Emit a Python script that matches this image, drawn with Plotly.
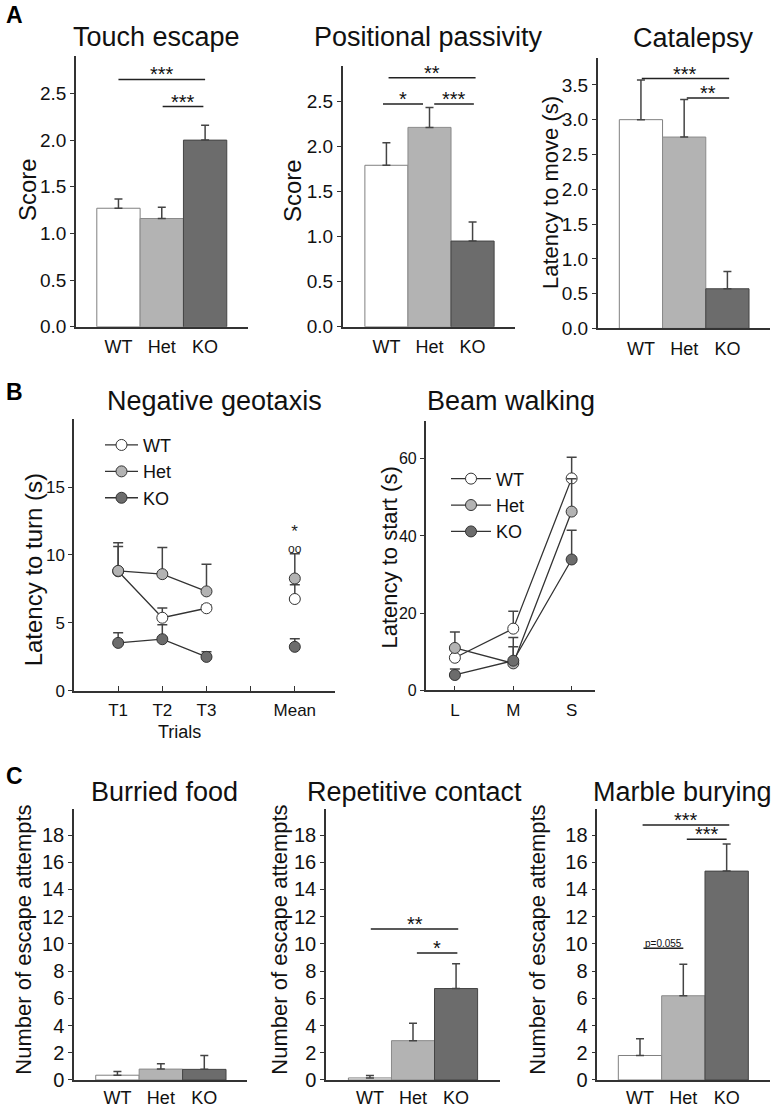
import plotly.graph_objects as go

# ---------------- DATA ----------------
groups = ["WT", "Het", "KO"]

touch_mean = [1.27, 1.16, 2.00]
touch_err = [0.10, 0.12, 0.16]
pos_mean = [1.79, 2.21, 0.95]
pos_err = [0.25, 0.22, 0.21]
cat_mean = [3.00, 2.75, 0.57]
cat_err = [0.57, 0.54, 0.25]

food_mean = [0.35, 0.80, 0.78]
food_err = [0.27, 0.40, 1.02]
rep_mean = [0.15, 2.89, 6.72]
rep_err = [0.18, 1.28, 1.82]
marble_mean = [1.80, 6.19, 15.35]
marble_err = [1.23, 2.31, 2.00]

trial_x = [1, 2, 3]
trial_labels = ["T1", "T2", "T3", "", "Mean"]
geo_wt = [8.80, 5.38, 6.08]
geo_wt_err = [2.10, 0.72, 0.25]
geo_het = [8.83, 8.59, 7.32]
geo_het_err = [1.80, 1.97, 2.00]
geo_ko = [3.53, 3.80, 2.50]
geo_ko_err = [0.75, 1.07, 0.37]
mean_x = [5]
geo_mean_wt = [6.76]
geo_mean_wt_err = [1.05]
geo_mean_het = [8.27]
geo_mean_het_err = [1.83]
geo_mean_ko = [3.24]
geo_mean_ko_err = [0.60]

beam_labels = ["L", "M", "S"]
beam_x = [1, 2, 3]
beam_wt = [8.46, 16.0, 54.9]
beam_wt_err = [2.0, 4.5, 5.5]
beam_het = [11.0, 7.0, 46.3]
beam_het_err = [4.1, 6.7, 8.5]
beam_ko = [4.0, 7.7, 33.9]
beam_ko_err = [1.56, 3.6, 7.6]

# significance brackets: (x_from, x_to, y, label)
sig_touch = [(0.0, 2.0, 2.65, "***"), (1.02, 1.96, 2.36, "***")]
sig_pos = [(0.05, 2.07, 2.76, "**"), (-0.08, 0.85, 2.47, "*"), (1.11, 2.03, 2.47, "***")]
sig_cat = [(0.02, 2.04, 3.59, "***"), (1.06, 2.04, 3.31, "**")]
sig_rep = [(0.02, 2.05, 11.09, "**"), (1.09, 2.03, 9.34, "*")]
sig_marble = [(0.06, 2.06, 18.74, "***"), (1.08, 2.0, 17.70, "***")]
sig_marble_p = [(0.08, 1.0, 9.68, "p=0.055")]
geo_marks = [(5, 11.2, "<span style='font-size:17px'>*</span><br>oo", 12)]

# ---------------- STYLE ----------------
W, H = 775, 1119
FONT = "Arial, Liberation Sans, sans-serif"
bar_colors = ["#ffffff", "#b3b3b3", "#6c6c6c"]
bar_lines = ["#808080", "#8a8a8a", "#444444"]
AX = "#333333"
TXT = "#111111"


def xd(a, b):
    return [a / W, b / W]


def yd(top, bottom):
    return [1 - bottom / H, 1 - top / H]


fig = go.Figure()
annotations = []
shapes = []

bar_panels = [
    ("", (76, 248), (56.7, 330), [-0.98, 2.99], [0, 2.9], [0, 0.5, 1, 1.5, 2, 2.5], ".1f", 19,
     touch_mean, touch_err, sig_touch, 3),
    ("2", (342.7, 515), (66.7, 330), [-1.015, 2.985], [0, 2.89], [0, 0.5, 1, 1.5, 2, 2.5], ".1f", 19,
     pos_mean, pos_err, sig_pos, 3),
    ("3", (597.7, 770), (58.3, 331.7), [-1.0, 2.985], [0, 3.89], [0, 0.5, 1, 1.5, 2, 2.5, 3, 3.5], ".1f", 19,
     cat_mean, cat_err, sig_cat, 3),
    ("6", (74, 247.3), (816.7, 1090.7), [-1.0, 2.99], [0, 19.94], list(range(0, 19, 2)), "d", 20,
     food_mean, food_err, [], 1),
    ("7", (326, 500), (816.7, 1090.7), [-1.02, 3.02], [0, 19.94], list(range(0, 19, 2)), "d", 20,
     rep_mean, rep_err, sig_rep, 1),
    ("8", (597.3, 770), (816.7, 1090.7), [-0.985, 3.0], [0, 19.94], list(range(0, 19, 2)), "d", 20,
     marble_mean, marble_err, sig_marble, 1),
]

layout_axes = {}
for aid, xdp, ydp, xr, yr, yt, fmt, tf, means, errs, sigs, stand in bar_panels:
    xa = "x" + aid
    ya = "y" + aid
    fig.add_trace(go.Bar(
        x=[0, 1, 2], y=means, width=1,
        marker=dict(color=bar_colors, line=dict(color=bar_lines, width=1)),
        error_y=dict(type="data", symmetric=False, array=errs, arrayminus=[0, 0, 0],
                     color="#444444", thickness=1.5, width=4),
        xaxis=xa, yaxis=ya, showlegend=False, hoverinfo="skip"))
    layout_axes["xaxis" + aid] = dict(
        domain=xd(*xdp), range=xr, anchor=ya, showgrid=False, zeroline=False,
        showline=True, linecolor=AX, linewidth=1.5, ticks="",
        tickmode="array", tickvals=[0, 1, 2], ticktext=groups,
        tickfont=dict(family=FONT, size=18, color=TXT), ticklabelstandoff=stand)
    layout_axes["yaxis" + aid] = dict(
        domain=yd(*ydp), range=yr, anchor=xa, showgrid=False, zeroline=False,
        showline=True, linecolor=AX, linewidth=1.5, ticks="outside", ticklen=4,
        tickcolor=AX, tickmode="array", tickvals=yt, tickformat=fmt,
        tickfont=dict(family=FONT, size=tf, color=TXT))
    for x0, x1, yv, lab in sigs:
        shapes.append(dict(type="line", xref=xa, yref=ya, x0=x0, x1=x1, y0=yv, y1=yv,
                           line=dict(color="#222222", width=1.5)))
        annotations.append(dict(xref=xa, yref=ya, x=(x0 + x1) / 2, y=yv, text=lab,
                                showarrow=False, yanchor="bottom", yshift=-8,
                                font=dict(family=FONT, size=20, color=TXT)))

for x0, x1, yv, lab in sig_marble_p:
    shapes.append(dict(type="line", xref="x8", yref="y8", x0=x0, x1=x1, y0=yv, y1=yv,
                       line=dict(color="#222222", width=1.5)))
    annotations.append(dict(xref="x8", yref="y8", x=(x0 + x1) / 2, y=yv, text=lab,
                            showarrow=False, yanchor="bottom", yshift=-3,
                            font=dict(family=FONT, size=10, color=TXT)))

# ---------------- line panels ----------------
series_style = [("WT", "#ffffff"), ("Het", "#b3b3b3"), ("KO", "#6c6c6c")]

geo_series = [(geo_wt, geo_wt_err, geo_mean_wt, geo_mean_wt_err),
              (geo_het, geo_het_err, geo_mean_het, geo_mean_het_err),
              (geo_ko, geo_ko_err, geo_mean_ko, geo_mean_ko_err)]
for (name, col), (vals, errs, mv, me) in zip(series_style, geo_series):
    fig.add_trace(go.Scatter(
        x=trial_x, y=vals, name=name, mode="lines+markers",
        line=dict(color="#333333", width=1.3),
        marker=dict(size=11, color=col, line=dict(color="#333333", width=1)),
        error_y=dict(type="data", symmetric=False, array=errs, arrayminus=[0] * len(errs),
                     color="#444444", thickness=1.5, width=5),
        xaxis="x4", yaxis="y4", legend="legend", hoverinfo="skip"))
    fig.add_trace(go.Scatter(
        x=mean_x, y=mv, name=name, mode="markers", showlegend=False,
        marker=dict(size=11, color=col, line=dict(color="#333333", width=1)),
        error_y=dict(type="data", symmetric=False, array=me, arrayminus=[0],
                     color="#444444", thickness=1.5, width=5),
        xaxis="x4", yaxis="y4", hoverinfo="skip"))

beam_series = [(beam_wt, beam_wt_err), (beam_het, beam_het_err), (beam_ko, beam_ko_err)]
for (name, col), (vals, errs) in zip(series_style, beam_series):
    fig.add_trace(go.Scatter(
        x=beam_x, y=vals, name=name, mode="lines+markers",
        line=dict(color="#333333", width=1.3),
        marker=dict(size=11, color=col, line=dict(color="#333333", width=1)),
        error_y=dict(type="data", symmetric=False, array=errs, arrayminus=[0] * len(errs),
                     color="#444444", thickness=1.5, width=5),
        xaxis="x5", yaxis="y5", legend="legend2", hoverinfo="skip"))

layout_axes["xaxis4"] = dict(
    domain=xd(74, 335), range=[0, 5.91], anchor="y4", showgrid=False, zeroline=False,
    showline=True, linecolor=AX, linewidth=1.5, ticks="inside", ticklen=5, tickcolor=AX,
    tickmode="array", tickvals=[1, 2, 3, 4, 5], ticktext=trial_labels,
    tickfont=dict(family=FONT, size=17, color=TXT), ticklabelstandoff=3)
layout_axes["yaxis4"] = dict(
    domain=yd(423.3, 697.7), range=[0, 20], anchor="x4", showgrid=False, zeroline=False,
    showline=True, linecolor=AX, linewidth=1.5, ticks="outside", ticklen=4, tickcolor=AX,
    tickmode="array", tickvals=[0, 5, 10, 15],
    tickfont=dict(family=FONT, size=17, color=TXT))
layout_axes["xaxis5"] = dict(
    domain=xd(425.7, 595), range=[0.5, 3.4], anchor="y5", showgrid=False, zeroline=False,
    showline=True, linecolor=AX, linewidth=1.5, ticks="inside", ticklen=5, tickcolor=AX,
    tickmode="array", tickvals=beam_x, ticktext=beam_labels,
    tickfont=dict(family=FONT, size=17, color=TXT), ticklabelstandoff=3)
layout_axes["yaxis5"] = dict(
    domain=yd(425, 697.3), range=[0, 69.8], anchor="x5", showgrid=False, zeroline=False,
    showline=True, linecolor=AX, linewidth=1.5, ticks="outside", ticklen=4, tickcolor=AX,
    tickmode="array", tickvals=[0, 20, 40, 60],
    tickfont=dict(family=FONT, size=16, color=TXT))

for xv, yv, lab, fs in geo_marks:
    annotations.append(dict(xref="x4", yref="y4", x=xv, y=yv, text=lab, showarrow=False,
                            yanchor="middle", font=dict(family=FONT, size=fs, color="#222222")))

# ---------------- text: titles, axis titles, panel letters ----------------
titles = [("Touch escape", 156, 37, "center"), ("Positional passivity", 428, 37, "center"),
          ("Catalepsy", 693, 38, "center"),
          ("Negative geotaxis", 214, 405, "center"), ("Beam walking", 511, 405, "center"),
          ("Burried food", 164, 800, "center"), ("Repetitive contact", 414, 800, "center"),
          ("Marble burying", 774, 800, "right")]
for t, px, py, xa in titles:
    annotations.append(dict(xref="paper", yref="paper", x=px / W, y=1 - py / H, text=t,
                            showarrow=False, xanchor=xa, yanchor="middle",
                            font=dict(family=FONT, size=27, color=TXT)))

ytitles = [("Score", 27, 191, 24), ("Score", 292, 193, 24), ("Latency to move (s)", 550, 195, 22),
           ("Latency to turn (s)", 33, 576, 24), ("Latency to start (s)", 389, 563, 22),
           ("Number of escape attempts", 24, 949, 22), ("Number of escape attempts", 280, 949, 22),
           ("Number of escape attempts", 538, 949, 22)]
for t, px, py, fs in ytitles:
    annotations.append(dict(xref="paper", yref="paper", x=px / W, y=1 - py / H, text=t,
                            showarrow=False, xanchor="center", yanchor="middle", textangle=-90,
                            font=dict(family=FONT, size=fs, color=TXT)))

annotations.append(dict(xref="paper", yref="paper", x=179 / W, y=1 - 739 / H, text="Trials",
                        showarrow=False, xanchor="center", yanchor="middle",
                        font=dict(family=FONT, size=18, color=TXT)))

for lab, px, py in [("A", 14, 15), ("B", 14, 396), ("C", 14, 784)]:
    annotations.append(dict(xref="paper", yref="paper", x=px / W, y=1 - py / H, text="<b>" + lab + "</b>",
                            showarrow=False, xanchor="center", yanchor="middle",
                            font=dict(family=FONT, size=23, color="#000000")))

fig.update_layout(
    width=W, height=H, margin=dict(l=0, r=0, t=0, b=0),
    paper_bgcolor="white", plot_bgcolor="white", barmode="overlay",
    annotations=annotations, shapes=shapes,
    legend=dict(x=100 / W, y=1 - 431 / H, xanchor="left", yanchor="top",
                font=dict(family=FONT, size=18, color=TXT), bgcolor="rgba(0,0,0,0)",
                itemwidth=33, tracegroupgap=0),
    legend2=dict(x=446 / W, y=1 - 465 / H, xanchor="left", yanchor="top",
                 font=dict(family=FONT, size=18, color=TXT), bgcolor="rgba(0,0,0,0)",
                 itemwidth=40, tracegroupgap=0),
    **layout_axes)

fig.write_html("out.html", config={"displayModeBar": False},
               post_script="document.body.style.margin='0';document.body.style.overflow='hidden';")
